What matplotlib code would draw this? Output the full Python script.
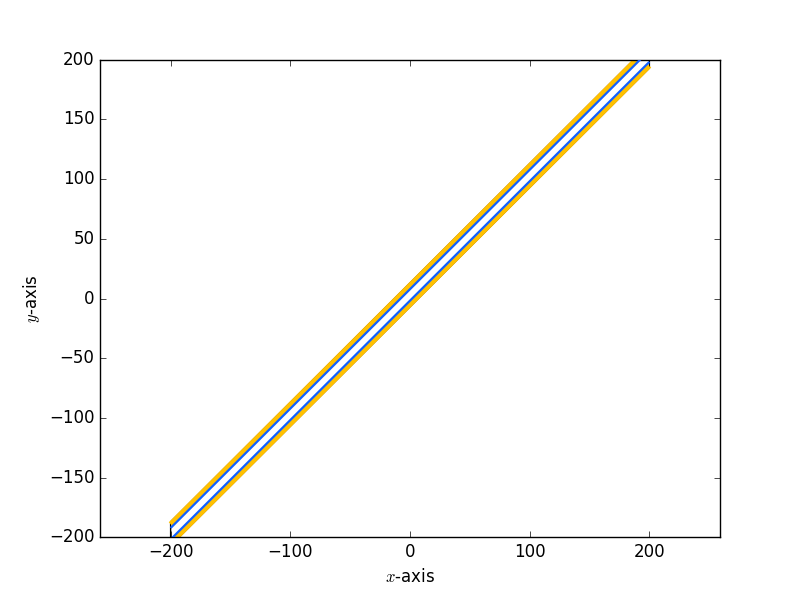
import matplotlib
matplotlib.use("Agg")
import matplotlib.pyplot as plt
import numpy as np

plt.style.use('classic')

# Data
x_road = np.array([-200.0, 200.0])      # road start / end along x
center_offset = 3.0                     # road centre line: y = x + offset
road_half = 10.0                        # half width of road outline
edge_half = 8.0                         # orange edge lines
lane_half = 4.8                         # blue lane lines

fig = plt.figure(figsize=(8, 5.97), dpi=100)
ax = fig.add_subplot(111)

yc = x_road + center_offset
poly_x = [x_road[0], x_road[1], x_road[1], x_road[0], x_road[0]]
poly_y = [yc[0] - road_half, yc[1] - road_half, yc[1] + road_half, yc[0] + road_half, yc[0] - road_half]
ax.fill(poly_x, poly_y, facecolor='white', edgecolor='black', linewidth=1.0, zorder=1)

for s in (1, -1):
    ax.plot(x_road, yc + s * edge_half, color='#FFC000', linewidth=3.8, solid_capstyle='butt', zorder=2)
    ax.plot(x_road, yc + s * lane_half, color='#1060FF', linewidth=1.6, solid_capstyle='butt', zorder=3)

ax.set_xlim(-259, 259)
ax.set_ylim(-200, 200)
ax.set_xticks([-200, -100, 0, 100, 200])
ax.set_yticks([-200, -150, -100, -50, 0, 50, 100, 150, 200])
ax.set_xlabel(r'$x$-axis')
ax.set_ylabel(r'$y$-axis')

fig.savefig('out.png', dpi=100)
